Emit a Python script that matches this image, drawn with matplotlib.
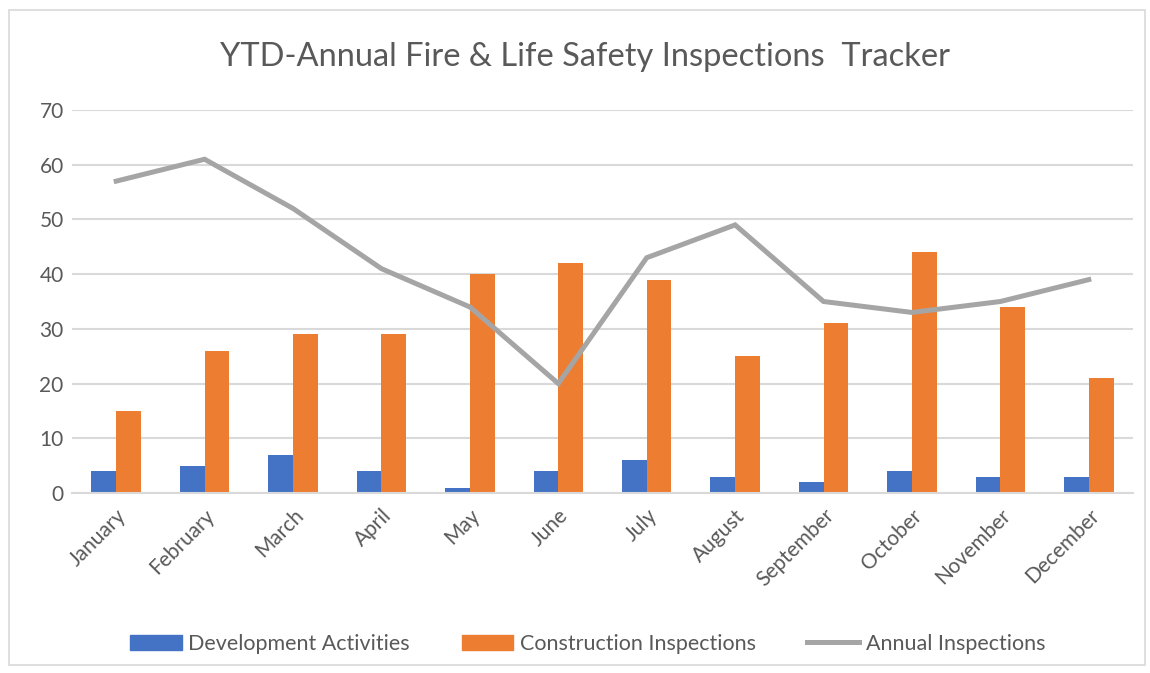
import matplotlib.pyplot as plt
import numpy as np
from matplotlib.patches import Rectangle
from matplotlib.lines import Line2D

months = ["January", "February", "March", "April", "May", "June", "July",
          "August", "September", "October", "November", "December"]
development = [4, 5, 7, 4, 1, 4, 6, 3, 2, 4, 3, 3]
construction = [15, 26, 29, 29, 40, 42, 39, 25, 31, 44, 34, 21]
annual = [57, 61, 52, 41, 34, 20, 43, 49, 35, 33, 35, 39]
yticks = [0, 10, 20, 30, 40, 50, 60, 70]

plt.rcParams['font.family'] = ['Lato', 'DejaVu Sans']
txt = '#595959'

fig = plt.figure(figsize=(11.5, 6.73), dpi=100)
fig.patches.append(Rectangle((9/1150, 1 - 665/673), 1136/1150, 655/673,
                             transform=fig.transFigure, fill=False,
                             edgecolor='#d9d9d9', linewidth=1.2))
ax = fig.add_axes([72/1150, 1 - 493/673, (1133 - 72)/1150, 383/673])

x = np.arange(len(months))
w = 0.28
ax.bar(x - w/2, development, w, color='#4472C4', label='Development Activities', zorder=2)
ax.bar(x + w/2, construction, w, color='#ED7D31', label='Construction Inspections', zorder=2)
ax.plot(x, annual, color='#A5A5A5', linewidth=3.6, label='Annual Inspections', zorder=3,
        solid_joinstyle='miter')

ax.set_xlim(-0.5, len(months) - 0.5)
ax.set_ylim(0, 70)
ax.set_yticks(yticks)
ax.set_yticklabels([str(v) for v in yticks], fontsize=15, color=txt)
ax.set_xticks(x)
ax.set_xticklabels(months, rotation=45, ha='right', rotation_mode='anchor',
                   fontsize=15, color=txt)
ax.tick_params(length=0)
ax.tick_params(axis='y', pad=6)
ax.tick_params(axis='x', pad=9)
ax.yaxis.grid(True, color='#d9d9d9', linewidth=1.5, zorder=0)
ax.set_axisbelow(True)
for s in ['top', 'right', 'left']:
    ax.spines[s].set_visible(False)
ax.spines['bottom'].set_color('#d9d9d9')
ax.spines['bottom'].set_linewidth(1.5)

fig.text(0.509, 1 - 57/673, 'YTD-Annual Fire & Life Safety Inspections  Tracker',
         ha='center', va='center', fontsize=23.5, color=txt)

handles = [Rectangle((0, 0), 1, 1, color='#4472C4'),
           Rectangle((0, 0), 1, 1, color='#ED7D31'),
           Line2D([0], [0], color='#A5A5A5', linewidth=3.6)]
fig.legend(handles, ['Development Activities', 'Construction Inspections', 'Annual Inspections'],
           loc='center', bbox_to_anchor=(0.511, 1 - 644/673), ncol=3, frameon=False,
           fontsize=15.5, labelcolor=txt, handlelength=2.4, handleheight=0.75,
           handletextpad=0.3, columnspacing=2.4)

fig.savefig('out.png', dpi=100)
